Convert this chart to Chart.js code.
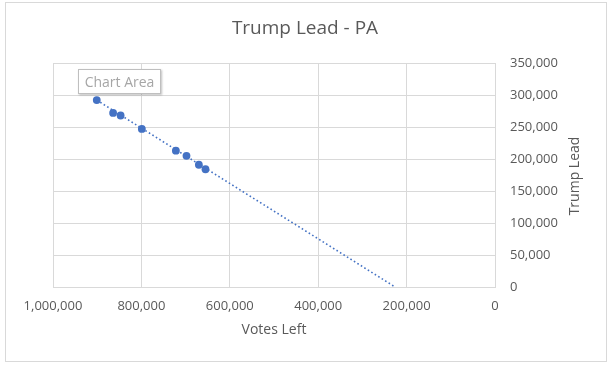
<!DOCTYPE html>
<html>
<head>
<meta charset="utf-8">
<script src="https://cdn.jsdelivr.net/npm/chart.js@4.4.1/dist/chart.umd.min.js"></script>
<style>
    html, body { margin: 0; padding: 0; background: #fff; }
    #wrap { position: relative; width: 616px; height: 372px; }
    #frame {
        position: absolute; left: 5px; top: 2px; width: 600px; height: 358px;
        border: 1px solid #D9D9D9; pointer-events: none;
    }
    #tip {
        position: absolute; left: 78px; top: 69px; width: 81px; height: 23px;
        border: 1px solid #BFBFBF; background: #fff;
        box-shadow: 1px 1px 2px rgba(0,0,0,0.25);
        font: 14px "Open Sans", sans-serif; color: #A6A6A6;
        line-height: 23px; text-align: center;
    }
</style>
</head>
<body>
<div id="wrap">
    <canvas id="chart" width="616" height="372"></canvas>
    <div id="frame"></div>
    <div id="tip">Chart Area</div>
</div>
<script>
// votes left vs Trump lead
const votesLeft = [901000, 864000, 847000, 799000, 722000, 698000, 670000, 655000];
const trumpLead = [292000, 272000, 268000, 247000, 213000, 205000, 191000, 184000];

// dotted linear trendline, forecast forward to zero
const trendX = [901000, 226000];
const trendY = [292000, 0];

const xTicks = [1000000, 800000, 600000, 400000, 200000, 0];
const yTicks = [0, 50000, 100000, 150000, 200000, 250000, 300000, 350000];

const grey = '#595959';
const blue = '#4472C4';
const fmt = v => v.toLocaleString('en-US');

// chart title and the right-hand axis title (reads bottom to top, as in Excel)
const titles = {
    id: 'titles',
    afterDraw(chart) {
        const ctx = chart.ctx;
        ctx.save();
        ctx.fillStyle = grey;
        ctx.textAlign = 'center';
        ctx.textBaseline = 'middle';
        ctx.font = '19px "Open Sans"';
        ctx.fillText('Trump Lead - PA', 305, 29);
        ctx.translate(575, 176);
        ctx.rotate(-Math.PI / 2);
        ctx.font = '14px "Open Sans"';
        ctx.fillText('Trump Lead', 0, 0);
        ctx.restore();
    }
};

new Chart(document.getElementById('chart'), {
    type: 'scatter',
    data: {
        datasets: [
            {
                label: 'Trump Lead',
                data: votesLeft.map((v, i) => ({ x: v, y: trumpLead[i] })),
                backgroundColor: blue,
                borderColor: blue,
                pointRadius: 3.9,
                pointHoverRadius: 3.9,
                pointBorderWidth: 0
            },
            {
                label: 'Trend',
                data: trendX.map((v, i) => ({ x: v, y: trendY[i] })),
                showLine: true,
                borderColor: blue,
                borderWidth: 1.6,
                borderDash: [1.6, 2.5],
                pointRadius: 0
            }
        ]
    },
    options: {
        responsive: false,
        animation: false,
        events: [],
        layout: { padding: { left: 53, right: 0, top: 63, bottom: 30 } },
        plugins: {
            legend: { display: false },
            tooltip: { enabled: false },
            title: { display: false }
        },
        scales: {
            x: {
                type: 'linear',
                reverse: true,
                min: 0,
                max: 1000000,
                afterBuildTicks: s => { s.ticks = xTicks.map(v => ({ value: v })); },
                afterFit: s => { s.height = 55; },
                border: { color: '#D9D9D9' },
                grid: { color: '#D9D9D9', drawTicks: false },
                ticks: {
                    color: grey,
                    font: { family: '"Open Sans"', size: 13 },
                    padding: 11,
                    maxRotation: 0,
                    callback: fmt
                },
                title: {
                    display: true,
                    text: 'Votes Left',
                    color: grey,
                    font: { family: '"Open Sans"', size: 14 },
                    padding: { top: 0, bottom: 4 }
                }
            },
            y: {
                position: 'right',
                min: 0,
                max: 350000,
                afterBuildTicks: s => { s.ticks = yTicks.map(v => ({ value: v })); },
                afterFit: s => { s.width = 121; },
                border: { color: '#D9D9D9' },
                grid: { color: '#D9D9D9', drawTicks: false },
                ticks: {
                    color: grey,
                    font: { family: '"Open Sans"', size: 13 },
                    padding: 15,
                    callback: fmt
                }
            }
        }
    },
    plugins: [titles]
});
</script>
</body>
</html>
